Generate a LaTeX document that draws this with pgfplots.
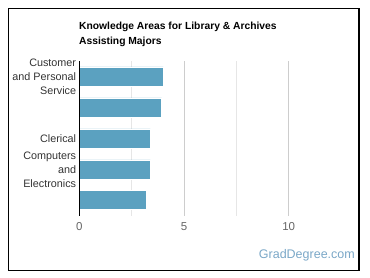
\documentclass[border=0pt]{standalone}
\usepackage{pgfplots}
\pgfplotsset{compat=1.18}
\usepackage{fontspec}
\setmainfont{Liberation Sans}
\definecolor{barc}{RGB}{91,161,192}
\definecolor{gridc}{RGB}{205,205,205}
\definecolor{gridm}{RGB}{230,230,230}
\definecolor{labc}{RGB}{51,51,51}
\definecolor{tickc}{RGB}{102,102,102}
\definecolor{brand}{RGB}{122,167,199}
\begin{document}
\begin{tikzpicture}[x=1pt,y=1pt]
\path[use as bounding box] (0,0) rectangle (370,278);
\draw[black,line width=1.4pt] (8.2,7.5) rectangle (359,269.5);
\node[anchor=north west,align=left,font=\fontsize{10.3}{15}\selectfont\bfseries,text=black,inner sep=0pt] at (79,256) {Knowledge Areas for Library \& Archives\\Assisting Majors};
\begin{axis}[
  at={(79.3pt,62.3pt)}, anchor=south west,
  width=261.7pt, height=154.7pt, scale only axis,
  xbar, bar width=19pt,
  xmin=0, xmax=12.5,
  ymin=-0.5, ymax=4.5, y dir=reverse,
  xtick={0,5,10},
  minor xtick={2.5,7.5},
  xmajorgrids, xminorgrids,
  major grid style={gridc, line width=0.7pt},
  minor grid style={gridm, line width=0.7pt},
  ytick={0,2,3}, yticklabels={},
  axis line style={draw=none},
  tick style={draw=none},
  xticklabel style={text=tickc, font=\fontsize{11.5}{13}\selectfont},
  xtick pos=bottom,
  x tick label style={yshift=-3pt},
  /pgf/number format/assume math mode=true,
  clip=false,
]
\addplot[fill=barc, draw=white, line width=0.5pt] coordinates {(4.01,0) (3.93,1) (3.39,2) (3.39,3) (3.19,4)};
\draw[black, line width=0.8pt] (axis cs:0,-0.5) -- (axis cs:0,4.5);
\node[anchor=east, align=right, text=labc, font=\fontsize{10.8}{14}\selectfont, inner sep=0pt] at (axis cs:0,0) [xshift=-3pt] {Customer\\and Personal\\Service};
\node[anchor=east, align=right, text=labc, font=\fontsize{10.8}{14}\selectfont, inner sep=0pt] at (axis cs:0,2) [xshift=-3pt] {Clerical};
\node[anchor=east, align=right, text=labc, font=\fontsize{10.8}{14}\selectfont, inner sep=0pt] at (axis cs:0,3) [xshift=-3pt] {Computers\\and\\Electronics};
\end{axis}
\node[anchor=east, text=brand, font=\fontsize{12.5}{14}\selectfont, inner sep=0pt] at (355,23) {GradDegree.com};
\end{tikzpicture}
\end{document}
